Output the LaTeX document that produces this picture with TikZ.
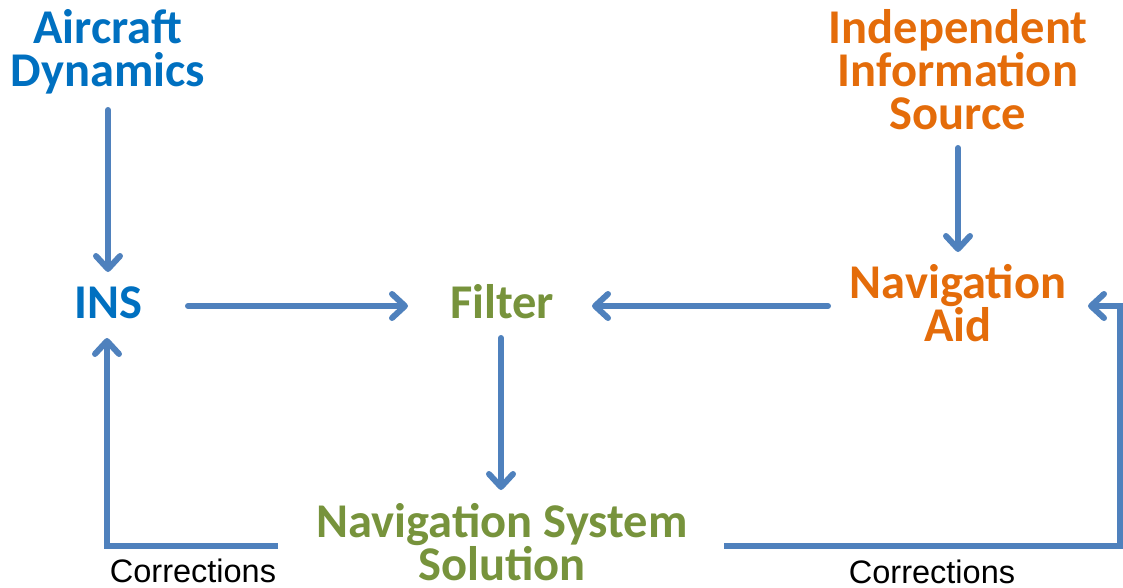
\documentclass[tikz,border=0pt]{standalone}
\usepackage{fontspec}
\setmainfont{Carlito}
\newfontfamily\labelfont{Liberation Sans}
\usetikzlibrary{arrows.meta,calc}
\definecolor{flowblue}{HTML}{4F81BD}
\definecolor{textblue}{HTML}{0070C0}
\definecolor{textgreen}{HTML}{77933C}
\definecolor{textorange}{HTML}{E46C0A}
\tikzset{
  block/.style={inner sep=0pt, align=center, font=\fontsize{48.5}{43}\selectfont\bfseries},
  corrlabel/.style={inner sep=0pt, font=\labelfont\fontsize{32.5}{36}\selectfont},
  arr/.style={draw=flowblue, line width=6pt, line cap=round, line join=miter,
    -{Straight Barb[length=13pt, width=24pt, line width=6pt, round]}},
}
\begin{document}
\begin{tikzpicture}[x=1pt, y=-1pt]
\useasboundingbox (0,0) rectangle (1123,588);

% blocks
\node[block, text=textblue]   (ad)   at (108,52)  {Aircraft\\Dynamics};
\node[block, text=textblue]   (ins)  at (108,303) {INS};
\node[block, text=textgreen]  (filt) at (502,302) {Filter};
\node[block, text=textorange] (src)  at (958,70)  {Independent\\Information\\Source};
\node[block, text=textorange] (aid)  at (958,303) {Navigation\\Aid};
\node[block, text=textgreen]  (nss)  at (502,542) {Navigation System\\Solution};

% labels of the feedback paths
\node[corrlabel] (corrL) at (193,571) {Corrections};
\node[corrlabel] (corrR) at (932,572) {Corrections};

% forward flow
\draw[arr] ($(ad)+(0,58)$) -- ($(ins)+(0,-31)$);
\draw[arr] ($(ins)+(80,3)$) -- ($(filt)+(-94,4)$);
\draw[arr] ($(aid)+(-130,3)$) -- ($(filt)+(90,4)$);
\draw[arr] ($(src)+(0,78)$) -- ($(aid)+(0,-51)$);
\draw[arr] ($(filt)+(-1,36)$) -- ($(nss)+(-1,-52)$);

% correction feedback
\draw[arr, line cap=butt] ($(nss)+(-224,4)$) -| ($(ins)+(-1,35)$);
\coordinate (rc) at ($(nss)+(618,4)$);
\draw[arr, line cap=butt] ($(nss)+(222,4)$) -- (rc) |- ($(aid)+(130,3)$);
\end{tikzpicture}
\end{document}
